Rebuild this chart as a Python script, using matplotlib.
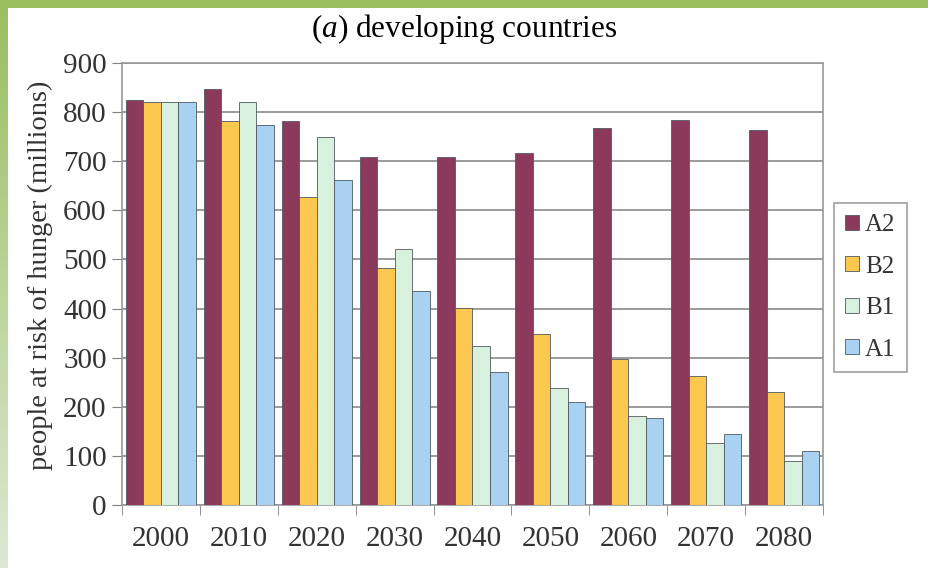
import numpy as np
import matplotlib.pyplot as plt
from matplotlib.patches import Rectangle

plt.rcParams['font.family'] = ['Liberation Serif', 'DejaVu Serif']
plt.rcParams['mathtext.fontset'] = 'custom'
plt.rcParams['mathtext.it'] = 'Liberation Serif:italic'
plt.rcParams['mathtext.rm'] = 'Liberation Serif'

# people at risk of hunger, millions, by SRES scenario
years = ['2000', '2010', '2020', '2030', '2040', '2050', '2060', '2070', '2080']
a2 = [824, 848, 781, 709, 709, 717, 768, 784, 764]
b2 = [820, 781, 627, 482, 401, 348, 298, 263, 231]
b1 = [820, 821, 749, 522, 323, 239, 181, 126, 90]
a1 = [820, 773, 662, 436, 270, 209, 177, 145, 110]

series = [('A2', a2, '#8c3a5c'), ('B2', b2, '#fdc850'),
          ('B1', b1, '#d8f1df'), ('A1', a1, '#a9d1f2')]

fig = plt.figure(figsize=(9.29, 5.68), dpi=100)

# green page border: solid strip on top, fading strip down the left
fig.patches.append(Rectangle((0, 1 - 8/568), 1, 8/568, transform=fig.transFigure,
                             facecolor='#9bbf5f', edgecolor='none', zorder=0))
grad = fig.add_axes([0, 0, 8/929, 1 - 8/568])
g = np.linspace(0, 1, 256).reshape(-1, 1)
top = np.array([0.60, 0.75, 0.38])
bot = np.array([0.87, 0.91, 0.83])
grad.imshow(top + (bot - top) * g[:, :, None], aspect='auto')
grad.axis('off')

ax = fig.add_axes([122/929, 63/568, 701/929, 442/568])
x = np.arange(len(years))
w = 0.225
for k, (name, vals, col) in enumerate(series):
    ax.bar(x + (k - 1.5) * w, vals, w, color=col, edgecolor='#4f5860',
           linewidth=0.6, label=name, zorder=3)

ax.set_xlim(-0.5, len(years) - 0.5)
ax.set_ylim(0, 900)
ax.set_yticks(np.arange(0, 901, 100))
ax.set_xticks(x)
ax.set_xticklabels(years)
ax.set_xticks(np.arange(-0.5, len(years), 1), minor=True)
ax.tick_params(axis='x', which='major', length=0, pad=15, labelsize=21, labelcolor='#333333')
ax.tick_params(axis='x', which='minor', length=7, color='#808080', direction='out')
ax.tick_params(axis='y', length=7, color='#808080', labelsize=21, labelcolor='#333333', pad=4)
ax.grid(axis='y', color='#8a8a8a', linewidth=1.2, zorder=1)
for s in ax.spines.values():
    s.set_color('#999999')
    s.set_linewidth(1.2)

fig.text(0.5, 1 - 29/568, r'($a$) developing countries', ha='center', va='center',
         fontsize=22.5)
fig.text(40/929, 0.5 * (63 + 505) / 568 + 0.015, 'people at risk of hunger (millions)',
         rotation=90, ha='center', va='center', fontsize=20.5, color='#333333')

leg = fig.legend(loc='upper left', bbox_to_anchor=(834/929, 1 - 203/568),
                 fontsize=18, frameon=True, fancybox=False, handlelength=0.55,
                 handleheight=0.55, handletextpad=0.25, labelspacing=0.78,
                 borderpad=0.45, borderaxespad=0)
leg.get_frame().set_edgecolor('#888888')
leg.get_frame().set_linewidth(1.2)
for t in leg.get_texts():
    t.set_color('#333333')

fig.savefig('out.png', dpi=100)
